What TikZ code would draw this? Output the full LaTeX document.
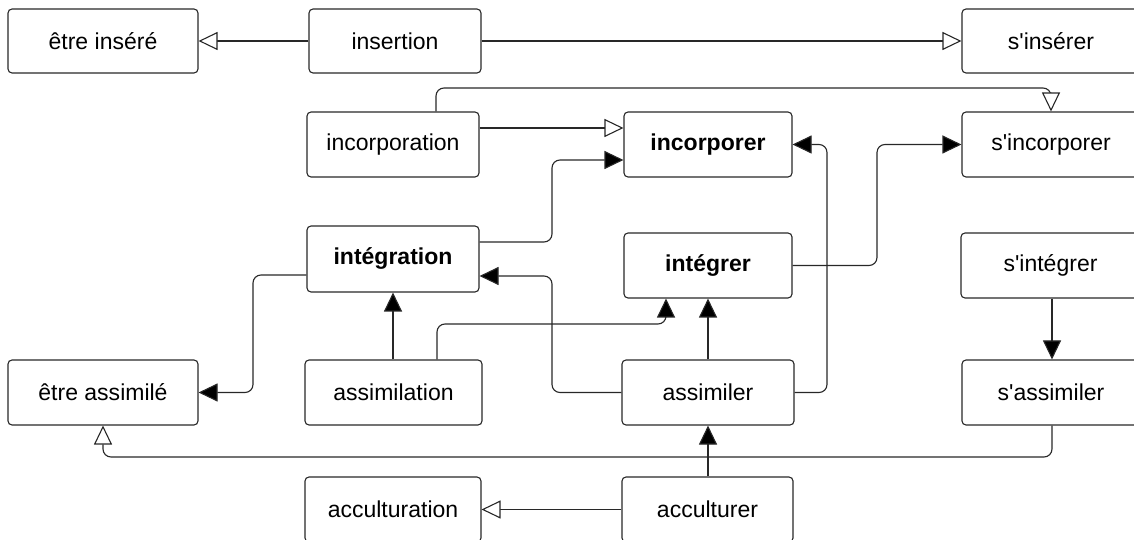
\documentclass[tikz,border=0pt]{standalone}
\usepackage{fontspec}
\setmainfont{Liberation Sans}[Ligatures=TeXOff]
\usetikzlibrary{arrows.meta}
\definecolor{ln}{RGB}{40,40,40}
\tikzset{
  box/.style={draw=ln, line width=1.1bp, rounded corners=4bp, inner sep=0pt, fill=white,
    font=\fontsize{23.1pt}{27pt}\selectfont, text=black},
  conn/.style={draw=ln, line width=1.1bp, rounded corners=8bp},
  full/.style={conn, -{Triangle[length=19bp, width=18bp, fill=black]}},
  hol/.style={conn, -{Triangle[open, length=19bp, width=18bp, fill=white]}}
}
\begin{document}
\begin{tikzpicture}[x=1bp, y=-1bp]
\clip (0,0) rectangle (1134,540);
\fill[white] (0,0) rectangle (1134,540);
% boxes
\node[box, minimum width=190bp, minimum height=64bp] (etreinsere) at (103,41) {être inséré};
\node[box, minimum width=172bp, minimum height=64bp] (insertion) at (395,41) {insertion};
\node[box, minimum width=178bp, minimum height=64bp] (sinserer) at (1051,41) {s'insérer};
\node[box, minimum width=172bp, minimum height=65bp] (incorporation) at (393,144.5) {incorporation};
\node[box, minimum width=168bp, minimum height=65bp] (incorporer) at (708,144.5) {\textbf{incorporer}};
\node[box, minimum width=178bp, minimum height=65bp] (sincorporer) at (1051,144.5) {s'incorporer};
\node[box, minimum width=172bp, minimum height=66bp] (integration) at (393,259) {\textbf{intégration}};
\node[box, minimum width=168bp, minimum height=65bp] (integrer) at (708,265.5) {\textbf{intégrer}};
\node[box, minimum width=179bp, minimum height=65bp] (sintegrer) at (1050.5,265.5) {s'intégrer};
\node[box, minimum width=190bp, minimum height=65bp] (etreassimile) at (103,392.5) {être assimilé};
\node[box, minimum width=177bp, minimum height=65bp] (assimilation) at (393.5,392.5) {assimilation};
\node[box, minimum width=172bp, minimum height=65bp] (assimiler) at (708,392.5) {assimiler};
\node[box, minimum width=178bp, minimum height=65bp] (sassimiler) at (1051,392.5) {s'assimiler};
\node[box, minimum width=176bp, minimum height=65bp] (acculturation) at (393,509.5) {acculturation};
\node[box, minimum width=171bp, minimum height=65bp] (acculturer) at (707.5,509.5) {acculturer};
% connectors
\draw[hol] (insertion.west) -- (etreinsere.east);
\draw[hol] (insertion.east) -- (sinserer.west);
\draw[hol] (incorporation.east |- 0,128) -- (incorporer.west |- 0,128);
\draw[hol] (incorporation.north -| 436,0) -- (436,88) -- (sincorporer.north |- 0,88) -- (sincorporer.north);
\draw[full] (integration.east |- 0,242) -- (552,242) -- (552,160) -- (incorporer.west |- 0,160);
\draw[full] (integrer.east) -- (877,265.5) -- (877,144.5) -- (sincorporer.west);
\draw[full] (assimiler.east) -- (827,392.5) -- (827,144.5) -- (incorporer.east);
\draw[full] (integration.west |- 0,275) -- (253,275) -- (253,392.5) -- (etreassimile.east);
\draw[full] (assimilation.north -| integration.south) -- (integration.south);
\draw[full] (assimilation.north -| 437,0) -- (437,324) -- (666,324) -- (integrer.south -| 666,0);
\draw[full] (assimiler.north) -- (integrer.south);
\draw[full] (assimiler.west) -- (552,392.5) -- (552,276) -- (integration.east |- 0,276);
\draw[full] (sintegrer.south -| 1052,0) -- (sassimiler.north -| 1052,0);
\draw[hol] (sassimiler.south -| 1052,0) -- (1052,457) -- (103,457) -- (etreassimile.south);
\draw[full] (acculturer.north -| 708,0) -- (assimiler.south -| 708,0);
\draw[hol] (acculturer.west) -- (acculturation.east |- acculturer.west);
\end{tikzpicture}
\end{document}
